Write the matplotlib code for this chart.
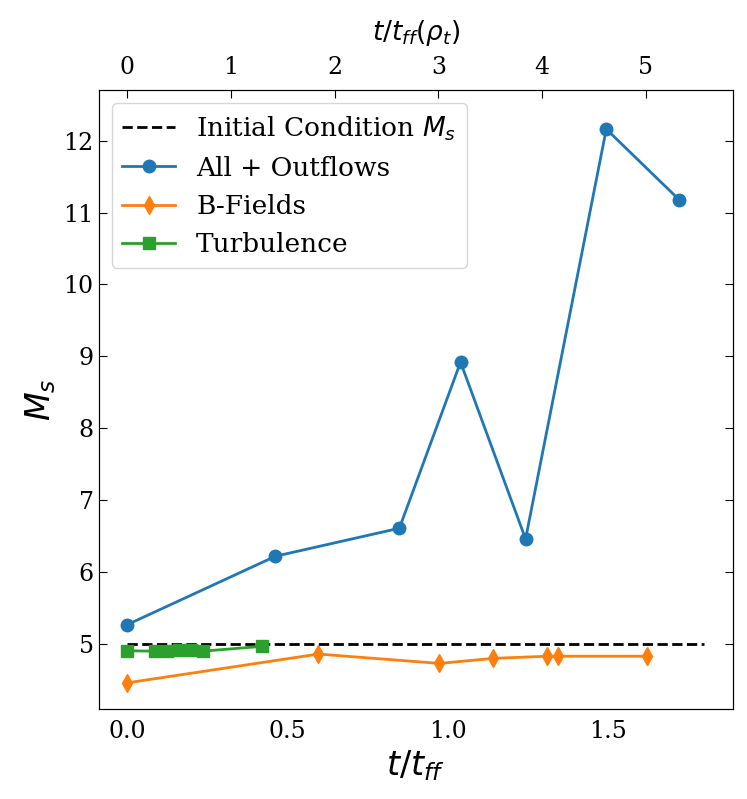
import matplotlib
matplotlib.use("Agg")
import matplotlib.pyplot as plt

plt.rcParams['font.family'] = 'DejaVu Serif'
plt.rcParams['mathtext.fontset'] = 'dejavusans'

# free-fall times (t / t_ff) and sonic Mach numbers
t_outflows = [0.0, 0.462, 0.849, 1.040, 1.243, 1.495, 1.722]
ms_outflows = [5.27, 6.22, 6.61, 8.92, 6.46, 12.16, 11.18]

t_bfields = [0.0, 0.596, 0.974, 1.142, 1.311, 1.344, 1.622]
ms_bfields = [4.46, 4.86, 4.73, 4.80, 4.83, 4.83, 4.83]

t_turb = [0.0, 0.085, 0.124, 0.160, 0.197, 0.235, 0.419]
ms_turb = [4.906, 4.90, 4.905, 4.91, 4.91, 4.90, 4.967]

t_init = [0.0, 1.8]
ms_init = [5.0, 5.0]

# conversion from t/t_ff to t/t_ff(rho_t)
tff_ratio = 3.09

fig, ax = plt.subplots(figsize=(7.47, 7.99), dpi=100)
fig.subplots_adjust(left=0.132, right=0.981, bottom=0.113, top=0.887)

ax.plot(t_init, ms_init, 'k--', lw=2, label=r'Initial Condition $M_s$')
ax.plot(t_outflows, ms_outflows, '-o', color='tab:blue', lw=2, ms=9, label='All + Outflows')
ax.plot(t_bfields, ms_bfields, '-d', color='tab:orange', lw=2, ms=9, label='B-Fields')
ax.plot(t_turb, ms_turb, '-s', color='tab:green', lw=2, ms=8, label='Turbulence')

ax.set_xlim(-0.09, 1.89)
ax.set_ylim(4.10, 12.70)
ax.set_xticks([0.0, 0.5, 1.0, 1.5])
ax.set_yticks(range(5, 13))
ax.tick_params(axis='x', length=0, labelsize=17, pad=8)
ax.tick_params(axis='y', direction='in', right=True, length=6, labelsize=17)
ax.set_xlabel(r'$t/t_{ff}$', fontsize=24)
ax.set_ylabel(r'$M_s$', fontsize=24)

ax2 = ax.twiny()
ax2.set_xlim(ax.get_xlim()[0] * tff_ratio, ax.get_xlim()[1] * tff_ratio)
ax2.set_xticks(range(0, 6))
ax2.tick_params(axis='x', direction='in', length=6, labelsize=17, pad=8)
ax2.set_xlabel(r'$t/t_{ff}(\rho_t)$', fontsize=19, labelpad=12)

ax.legend(loc='upper left', fontsize=19)

plt.savefig('out.png', dpi=100)
